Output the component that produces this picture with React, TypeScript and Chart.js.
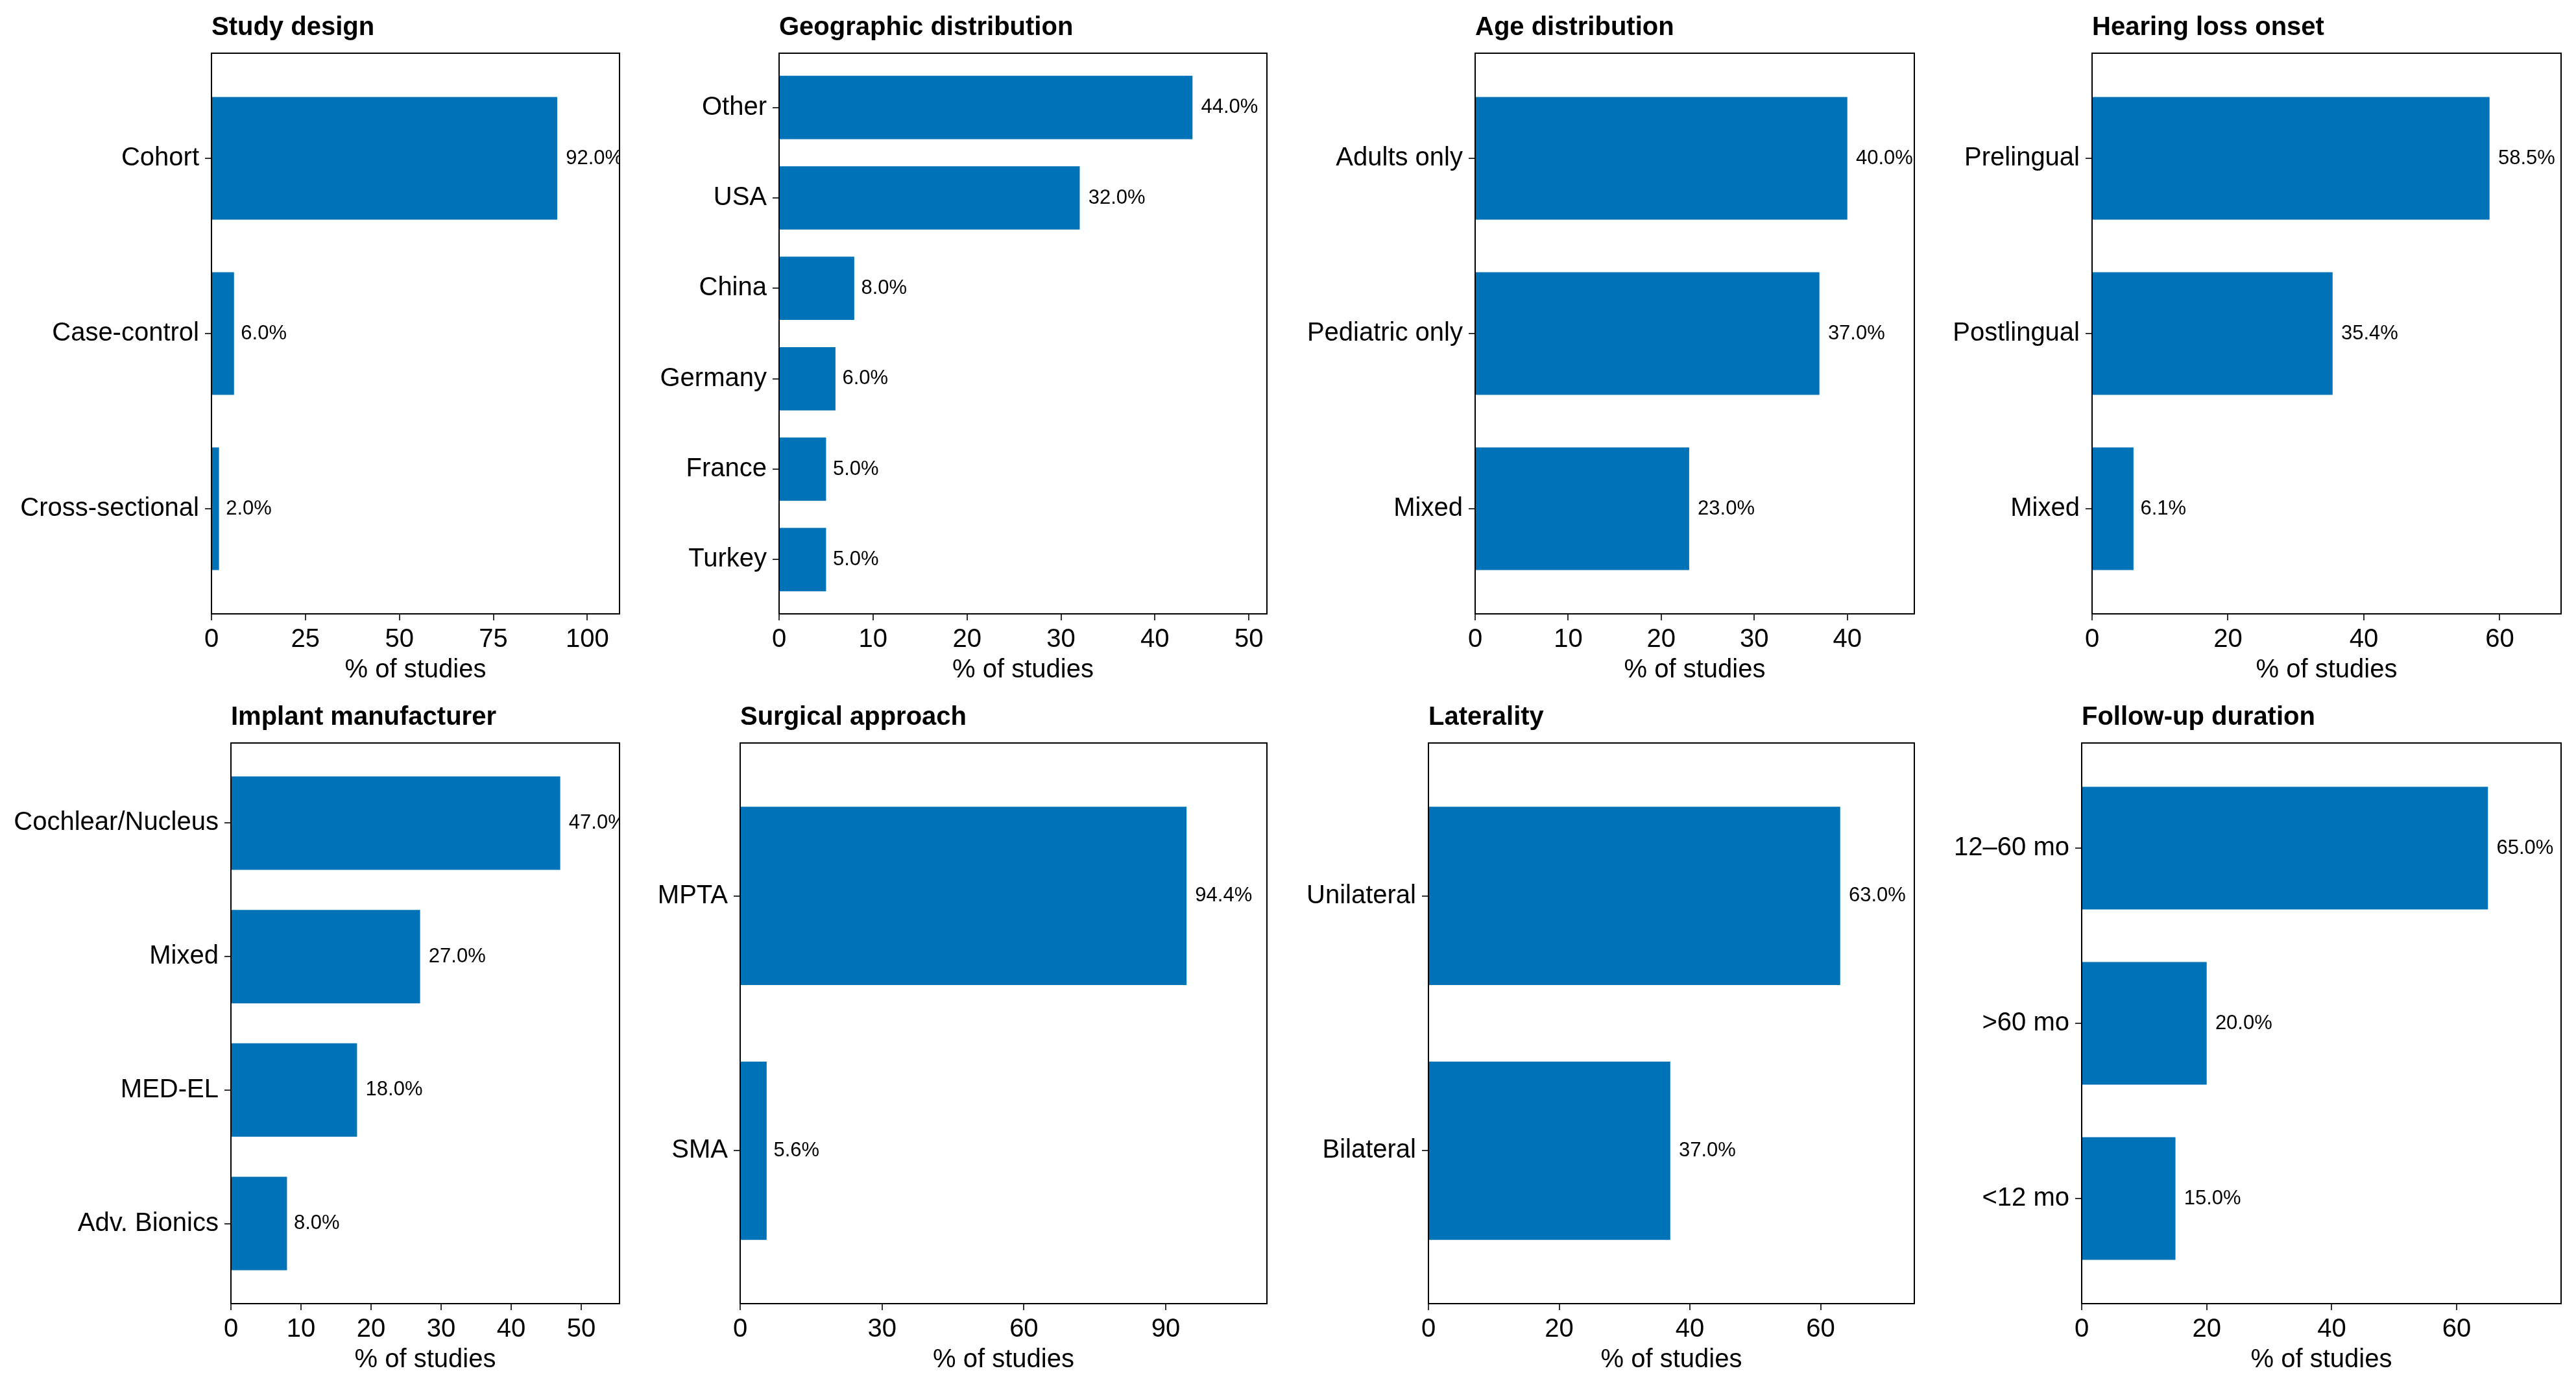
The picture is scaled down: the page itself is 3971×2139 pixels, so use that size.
import { useEffect, useRef } from "react"
import { Chart, registerables } from "chart.js"

Chart.register(...registerables)

// Dati (percentuale di studi)
const studyDesignLabels = ["Cohort", "Case-control", "Cross-sectional"]
const studyDesignValues = [92.0, 6.0, 2.0]

const geographyLabels = ["Other", "USA", "China", "Germany", "France", "Turkey"]
const geographyValues = [44.0, 32.0, 8.0, 6.0, 5.0, 5.0]

const ageLabels = ["Adults only", "Pediatric only", "Mixed"]
const ageValues = [40.0, 37.0, 23.0]

const onsetLabels = ["Prelingual", "Postlingual", "Mixed"]
const onsetValues = [58.5, 35.4, 6.1]

const manufacturerLabels = ["Cochlear/Nucleus", "Mixed", "MED-EL", "Adv. Bionics"]
const manufacturerValues = [47.0, 27.0, 18.0, 8.0]

const surgicalLabels = ["MPTA", "SMA"]
const surgicalValues = [94.4, 5.6]

const lateralityLabels = ["Unilateral", "Bilateral"]
const lateralityValues = [63.0, 37.0]

const followUpLabels = ["12–60 mo", ">60 mo", "<12 mo"]
const followUpValues = [65.0, 20.0, 15.0]

const BAR_COLOR = "#0072B8"
const FONT = "'Liberation Sans', Arial, Helvetica, sans-serif"
const X_AXIS_HEIGHT = 115

interface PanelProps {
  title: string
  labels: string[]
  values: number[]
  step: number
  left: number
  top: number
  width: number
  height: number
  axisWidth: number
  padTop: number
  padRight: number
  padBottom: number
}

function BarPanel({ title, labels, values, step, left, top, width, height, axisWidth, padTop, padRight, padBottom }: PanelProps) {
  const chartRef = useRef<HTMLCanvasElement>(null)
  const chartInstance = useRef<Chart | null>(null)

  useEffect(() => {
    if (!chartRef.current) return
    if (chartInstance.current) chartInstance.current.destroy()
    const ctx = chartRef.current.getContext("2d")
    if (!ctx) return

    // titolo, bordo del pannello ed etichette dei valori
    const decor = {
      id: "panelDecor",
      afterDatasetsDraw(chart: Chart) {
        const c = chart.ctx
        const area = chart.chartArea
        const meta = chart.getDatasetMeta(0)
        c.save()
        c.beginPath()
        c.rect(area.left, area.top, area.right - area.left, area.bottom - area.top)
        c.clip()
        c.font = `31px ${FONT}`
        c.fillStyle = "#000"
        c.textAlign = "left"
        c.textBaseline = "middle"
        meta.data.forEach((bar: any, i: number) => {
          const text = values[i].toFixed(1) + "%"
          const w = c.measureText(text).width
          c.fillText(text, bar.x + w * 0.15, bar.y)
        })
        c.restore()
      },
      afterDraw(chart: Chart) {
        const c = chart.ctx
        const area = chart.chartArea
        c.save()
        c.strokeStyle = "#000"
        c.lineWidth = 2
        c.strokeRect(area.left, area.top, area.right - area.left, area.bottom - area.top)
        c.font = `bold 40px ${FONT}`
        c.fillStyle = "#000"
        c.textAlign = "left"
        c.textBaseline = "alphabetic"
        c.fillText(title, area.left, area.top - 28)
        c.restore()
      },
    }

    const grid = {
      drawOnChartArea: false,
      drawTicks: true,
      tickLength: 10,
      color: "#333333",
      lineWidth: 2,
      offset: false,
    }

    chartInstance.current = new Chart(ctx, {
      type: "bar",
      data: {
        datasets: [
          {
            data: values.map((v, i) => ({ x: v, y: i })),
            backgroundColor: BAR_COLOR,
            borderWidth: 0,
            barPercentage: 0.7,
            categoryPercentage: 1,
          },
        ],
      },
      options: {
        animation: false,
        responsive: false,
        devicePixelRatio: 1,
        indexAxis: "y",
        layout: { padding: { top: padTop, right: padRight, bottom: padBottom, left: 0 } },
        plugins: {
          legend: { display: false },
          tooltip: { enabled: false },
          title: { display: false },
        },
        scales: {
          x: {
            type: "linear",
            min: 0,
            max: Math.max(...values) * 1.18,
            offset: false,
            grid: grid,
            border: { display: false },
            ticks: {
              stepSize: step,
              includeBounds: false,
              maxRotation: 0,
              padding: 6,
              color: "#000",
              font: { family: FONT, size: 40 },
            },
            title: {
              display: true,
              text: "% of studies",
              color: "#000",
              font: { family: FONT, size: 40, lineHeight: 1.2 },
              padding: { top: 0, bottom: 4 },
            },
            afterFit: (scale: any) => {
              scale.height = X_AXIS_HEIGHT
            },
          },
          y: {
            type: "linear",
            reverse: true,
            offset: false,
            min: -0.6,
            max: labels.length - 0.4,
            grid: grid,
            border: { display: false },
            afterBuildTicks: (scale: any) => {
              scale.ticks = labels.map((_, i) => ({ value: i }))
            },
            ticks: {
              autoSkip: false,
              padding: 9,
              color: "#000",
              font: { family: FONT, size: 40 },
              callback: (v: any) => labels[v as number] ?? "",
            },
            afterFit: (scale: any) => {
              scale.width = axisWidth
            },
          },
        },
      },
      plugins: [decor],
    })

    return () => {
      if (chartInstance.current) {
        chartInstance.current.destroy()
        chartInstance.current = null
      }
    }
  }, [title, labels, values, step, axisWidth, padTop, padRight, padBottom])

  return (
    <canvas
      ref={chartRef}
      width={width}
      height={height}
      style={{ position: "absolute", left, top, width, height, display: "block" }}
    />
  )
}

const row1 = { top: 0, height: 1070, padTop: 82, padBottom: 9 }
const row2 = { top: 1070, height: 1069, padTop: 75, padBottom: 15 }

export default function App() {
  useEffect(() => {
    document.body.style.margin = "0"
    document.body.style.overflow = "hidden"
  }, [])

  return (
    <div style={{ position: "absolute", left: 0, top: 0, width: 3971, height: 2139, background: "#fff", overflow: "hidden" }}>
      <BarPanel title="Study design" labels={studyDesignLabels} values={studyDesignValues} step={25}
        left={0} width={1000} axisWidth={326} padRight={45} {...row1} />
      <BarPanel title="Geographic distribution" labels={geographyLabels} values={geographyValues} step={10}
        left={1000} width={1000} axisWidth={201} padRight={47} {...row1} />
      <BarPanel title="Age distribution" labels={ageLabels} values={ageValues} step={10}
        left={2000} width={990} axisWidth={274} padRight={39} {...row1} />
      <BarPanel title="Hearing loss onset" labels={onsetLabels} values={onsetValues} step={20}
        left={2990} width={981} axisWidth={235} padRight={23} {...row1} />

      <BarPanel title="Implant manufacturer" labels={manufacturerLabels} values={manufacturerValues} step={10}
        left={0} width={1000} axisWidth={356} padRight={45} {...row2} />
      <BarPanel title="Surgical approach" labels={surgicalLabels} values={surgicalValues} step={30}
        left={1000} width={1000} axisWidth={141} padRight={47} {...row2} />
      <BarPanel title="Laterality" labels={lateralityLabels} values={lateralityValues} step={20}
        left={2000} width={990} axisWidth={202} padRight={39} {...row2} />
      <BarPanel title="Follow-up duration" labels={followUpLabels} values={followUpValues} step={20}
        left={2990} width={981} axisWidth={219} padRight={23} {...row2} />
    </div>
  )
}
